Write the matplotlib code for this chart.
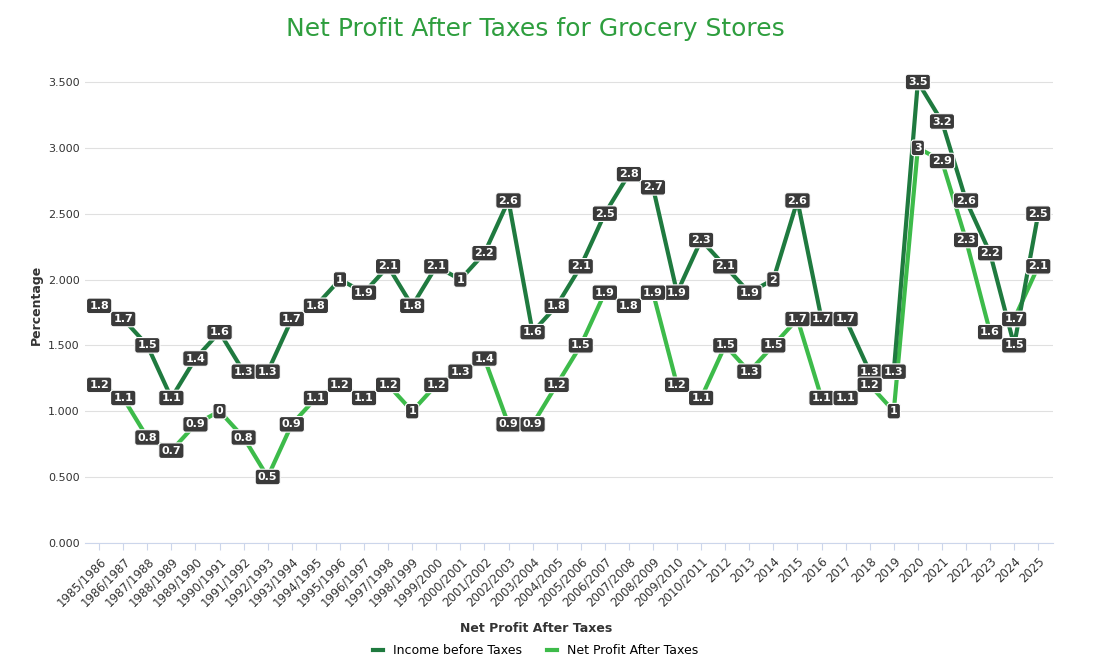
import matplotlib.pyplot as plt

cats = [f"{y}/{y+1}" for y in range(1985, 2011)] + [str(y) for y in range(2012, 2026)]
income = [1.8,1.7,1.5,1.1,1.4,1.6,1.3,1.3,1.7,1.8,2.0,1.9,2.1,1.8,2.1,2.0,2.2,2.6,1.6,1.8,2.1,2.5,2.8,2.7,1.9,2.3,
          2.1,1.9,2.0,2.6,1.7,1.7,1.3,1.3,3.5,3.2,2.6,2.2,1.5,2.5]
net = [1.2,1.1,0.8,0.7,0.9,1.0,0.8,0.5,0.9,1.1,1.2,1.1,1.2,1.0,1.2,1.3,1.4,0.9,0.9,1.2,1.5,1.9,1.8,1.9,1.2,1.1,
       1.5,1.3,1.5,1.7,1.1,1.1,1.2,1.0,3.0,2.9,2.3,1.6,1.7,2.1]
income_labels = ["1.8","1.7","1.5","1.1","1.4","1.6","1.3","1.3","1.7","1.8","1","1.9","2.1","1.8","2.1","1","2.2","2.6","1.6","1.8","2.1","2.5","2.8","2.7","1.9","2.3",
                 "2.1","1.9","2","2.6","1.7","1.7","1.3","1.3","3.5","3.2","2.6","2.2","1.5","2.5"]
net_labels = ["1.2","1.1","0.8","0.7","0.9","0","0.8","0.5","0.9","1.1","1.2","1.1","1.2","1","1.2","1.3","1.4","0.9","0.9","1.2","1.5","1.9","1.8","1.9","1.2","1.1",
              "1.5","1.3","1.5","1.7","1.1","1.1","1.2","1","3","2.9","2.3","1.6","1.7","2.1"]

dark, light = "#1f7a3f", "#3dbb4a"
fig = plt.figure(figsize=(11, 6.62), dpi=100)
ax = fig.add_axes([0.077, 0.18, 0.88, 0.72])
x = range(len(cats))
ax.plot(x, income, color=dark, lw=3, label="Income before Taxes", zorder=3)
ax.plot(x, net, color=light, lw=3, label="Net Profit After Taxes", zorder=2)
bbox = dict(boxstyle="round,pad=0.25", fc="#3a3a3a", ec="white", lw=0.8)
for xs, vs, ls in [(x, income, income_labels), (x, net, net_labels)]:
    for xi, v, l in zip(xs, vs, ls):
        ax.text(xi, v, l, ha="center", va="center", fontsize=8, color="white", fontweight="bold", bbox=bbox, zorder=5)
ax.set_xlim(-0.6, len(cats) - 0.4)
ax.set_ylim(0, 3.62)
ax.set_yticks([0, 0.5, 1, 1.5, 2, 2.5, 3, 3.5])
ax.set_yticklabels([f"{t:.3f}" for t in ax.get_yticks()], fontsize=8, color="#333")
ax.set_xticks(list(x))
ax.set_xticklabels(cats, rotation=45, ha="right", rotation_mode="anchor", fontsize=8.5, color="#333")
ax.grid(axis="y", color="#e0e0e0", lw=0.8)
for s in ["top", "right", "left"]:
    ax.spines[s].set_visible(False)
ax.spines["bottom"].set_color("#ccd6eb")
ax.tick_params(axis="y", length=0)
ax.tick_params(axis="x", length=5, color="#ccd6eb")
ax.set_ylabel("Percentage", fontsize=9, fontweight="bold", color="#333")
fig.text(0.487, 0.045, "Net Profit After Taxes", ha="center", fontsize=9, fontweight="bold", color="#333")
fig.legend(loc="lower center", bbox_to_anchor=(0.487, -0.01), ncol=2, frameon=False, fontsize=9,
           handlelength=0.8, markerscale=1.0, handler_map=None)
fig.text(0.487, 0.945, "Net Profit After Taxes for Grocery Stores", ha="center", fontsize=18, color="#2e9e3e")
fig.savefig("out.png", dpi=100)
